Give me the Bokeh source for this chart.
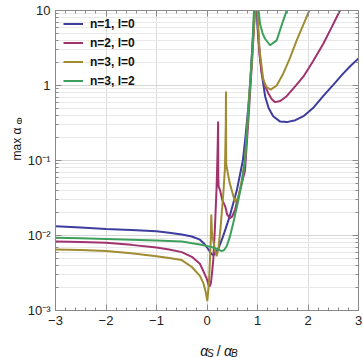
import numpy as np
from bokeh.plotting import figure
from bokeh.models import LinearAxis, LogAxis, FixedTicker, Range1d
from bokeh.layouts import row, column
from bokeh.core.properties import value
from bokeh.embed import file_html
from bokeh.resources import INLINE

# ---- data ----
x_ticks = [-3, -2, -1, 0, 1, 2, 3]
x_tick_labels = ["−3", "−2", "−1", "0", "1", "2", "3"]
y_ticks = [0.001, 0.01, 0.1, 1, 10]
y_tick_labels = ["10⁻³", "10⁻²", "10⁻¹", "1", "10"]

series_labels = ["n=1, l=0", "n=2, l=0", "n=3, l=0", "n=3, l=2"]
series_colors = ["#3d3da0", "#a0336e", "#a08c32", "#3ca05c"]

blue_x = [-3, -2.5, -2, -1.5, -1, -0.75, -0.5, -0.3, -0.14, -0.05, 0.03, 0.07, 0.10, 0.13, 0.16, 0.23, 0.32,
          0.45, 0.59, 0.65, 0.71, 0.76, 0.82, 0.855, 0.885, 0.915, 0.94, 0.96,
          0.975, 0.99, 1.0, 1.02, 1.05, 1.09, 1.15, 1.22, 1.31, 1.45, 1.58, 1.75, 1.91, 2.1, 2.3, 2.5, 2.7,
          2.85, 3.0]
blue_y = [0.0133, 0.0128, 0.0122, 0.0118, 0.0114, 0.0109, 0.0103, 0.0097, 0.0088, 0.0077, 0.0065, 0.0059,
          0.0056, 0.0055, 0.0058, 0.0068, 0.0098,
          0.018, 0.04, 0.063, 0.1, 0.2, 0.53, 1.1, 2.4, 5.0, 10, 30,
          30, 9, 6.0, 4.0, 2.4, 1.35, 0.72, 0.5, 0.39, 0.33, 0.325, 0.345, 0.39, 0.50, 0.72, 1.02, 1.45,
          1.85, 2.3]

mag_x = [-3, -2.5, -2, -1.5, -1, -0.75, -0.5, -0.3, -0.14, -0.05, 0.0, 0.03, 0.06, 0.08, 0.10, 0.125, 0.158,
         0.19, 0.205, 0.215, 0.22, 0.224, 0.23, 0.26, 0.30, 0.36, 0.40, 0.455, 0.50, 0.554, 0.653, 0.752,
         0.82, 0.89, 0.95, 0.97,
         0.98, 1.0, 1.04, 1.083, 1.15, 1.214, 1.28, 1.347, 1.45, 1.578, 1.75, 1.907, 2.1, 2.303, 2.47, 2.634,
         2.7]
mag_y = [0.0083, 0.0082, 0.0080, 0.0075, 0.0069, 0.0065, 0.0060, 0.0052, 0.0042, 0.0031, 0.0026, 0.0022,
         0.0021, 0.0024, 0.0032, 0.0048, 0.013,
         0.044, 0.1, 0.2, 0.33, 0.06, 0.045, 0.040, 0.030, 0.0245, 0.019, 0.017, 0.018, 0.022, 0.04, 0.073,
         0.35, 2.0, 10, 30,
         30, 8, 2.6, 1.45, 0.98, 0.79, 0.66, 0.60, 0.62, 0.72, 0.98, 1.31, 2.1, 3.6, 6.0, 10,
         12]

oli_x = [-3, -2.5, -2, -1.5, -1, -0.75, -0.5, -0.3, -0.14, -0.07, -0.02, 0.006, 0.03, 0.045, 0.073, 0.085,
         0.095, 0.105, 0.158, 0.19, 0.224, 0.27, 0.323, 0.356, 0.372, 0.376, 0.380, 0.40, 0.45, 0.49, 0.554,
         0.62, 0.687, 0.752, 0.82, 0.89, 0.95, 0.97,
         0.985, 1.0, 1.04, 1.115, 1.18, 1.261, 1.38, 1.511, 1.64, 1.776, 1.9, 2.026, 2.1]
oli_y = [0.0065, 0.0064, 0.0062, 0.0058, 0.0053, 0.0050, 0.0047, 0.0038, 0.0029, 0.0023, 0.0017, 0.00134,
         0.0020, 0.0029, 0.008, 0.019,
         0.012, 0.0098, 0.0065, 0.0053, 0.0065, 0.013, 0.036, 0.081, 0.3, 0.83, 0.09, 0.075, 0.05, 0.04,
         0.028,
         0.032, 0.054, 0.1, 0.5, 2.3, 10, 30,
         30, 9, 3.0, 1.19, 0.95, 0.88, 1.0, 1.45, 2.3, 4.0, 6.3, 10, 13]

grn_x = [-3, -2.5, -2, -1.5, -1, -0.5, -0.14, 0.1, 0.2, 0.29, 0.34, 0.39, 0.45, 0.52, 0.62, 0.69, 0.752,
         0.80, 0.84, 0.89, 0.93, 0.96,
         0.985, 1.0, 1.05, 1.10, 1.149, 1.248, 1.38, 1.511, 1.578, 1.62]
grn_y = [0.0093, 0.0092, 0.0090, 0.0088, 0.0086, 0.0083, 0.0076, 0.0070, 0.0066, 0.0062, 0.0064, 0.0072,
         0.0095, 0.0147, 0.0295, 0.05, 0.1,
         0.3, 0.7, 2.5, 10, 30,
         30, 14, 6.6, 5.0, 4.2, 3.44, 4.0, 7.4, 10, 13]

series = [(blue_x, blue_y), (mag_x, mag_y), (oli_x, oli_y), (grn_x, grn_y)]

# ---- layout sizes ----
FONT = "Liberation Sans"
W, H = 363, 357
LW = 22          # left title strip
BH = 25          # bottom title strip
PW, PH = W - LW, H - BH

# ---- main figure ----
p = figure(width=PW, height=PH, x_range=(-3, 3), y_range=(0.001, 10), y_axis_type="log",
           output_backend="svg", toolbar_location=None,
           min_border_left=55 - LW, min_border_right=5, min_border_top=10, min_border_bottom=PH - 310)
p.outline_line_color = "#8a8a8a"
p.background_fill_color = "white"

x_minor = [round(v, 1) for v in np.arange(-3, 3.001, 0.2)]
y_minor = [m * 10.0 ** k for k in range(-3, 1) for m in range(2, 10)]

xt = FixedTicker(ticks=x_ticks, minor_ticks=x_minor)
yt = FixedTicker(ticks=y_ticks, minor_ticks=y_minor)
p.xaxis.ticker = xt
p.yaxis.ticker = yt
p.xgrid.ticker = xt
p.ygrid.ticker = yt
p.xaxis.major_label_overrides = dict(zip(x_ticks, x_tick_labels))
p.yaxis.major_label_overrides = dict(zip(y_ticks, y_tick_labels))

p.xgrid.grid_line_color = "#dcdcdc"
p.xgrid.minor_grid_line_color = None
p.ygrid.grid_line_color = "#d6d6d6"
p.ygrid.minor_grid_line_color = "#e9e9e9"

def style_axis(ax):
    ax.axis_line_color = "#8a8a8a"
    ax.major_tick_line_color = "#8a8a8a"
    ax.minor_tick_line_color = "#8a8a8a"
    ax.major_tick_in = 6
    ax.major_tick_out = 0
    ax.minor_tick_in = 3
    ax.minor_tick_out = 0
    ax.major_label_text_font = FONT
    ax.major_label_text_font_size = "13px"
    ax.major_label_text_color = "#222222"
    ax.major_label_standoff = 5

for ax in p.xaxis + p.yaxis:
    style_axis(ax)

top_ax = LinearAxis(ticker=FixedTicker(ticks=x_ticks, minor_ticks=x_minor))
right_ax = LogAxis(ticker=FixedTicker(ticks=y_ticks, minor_ticks=y_minor))
for ax, ticks in ((top_ax, x_ticks), (right_ax, y_ticks)):
    style_axis(ax)
    ax.major_label_overrides = {t: "" for t in ticks}
    ax.major_label_standoff = 0
p.add_layout(top_ax, "above")
p.add_layout(right_ax, "right")

for (xs, ys), lab, col in zip(series, series_labels, series_colors):
    p.line(xs, ys, line_color=col, line_width=2, legend_label=lab)

lg = p.legend[0]
lg.location = (8, 220)
lg.margin = 0
lg.padding = 0
lg.spacing = 0
lg.glyph_width = 20
lg.glyph_height = 19
lg.label_height = 19
lg.label_standoff = 7
lg.border_line_color = None
lg.background_fill_alpha = 0
lg.label_text_font = FONT
lg.label_text_font_size = "12px"
lg.label_text_font_style = "bold"
lg.label_text_color = "#111111"

# ---- title strips (pixel-like ranges, y increasing downwards) ----
def strip(w, h, x0, y0):
    f = figure(width=w, height=h, x_range=Range1d(x0, x0 + w), y_range=Range1d(y0 + h, y0),
               output_backend="svg", toolbar_location=None,
               x_axis_location=None, y_axis_location=None,
               min_border_left=0, min_border_right=0, min_border_top=0, min_border_bottom=0)
    f.grid.visible = False
    f.outline_line_color = None
    f.background_fill_color = "white"
    f.border_fill_color = "white"
    return f

def txt(f, x, y, s, size, style="normal", angle=0.0):
    f.text(x=[x], y=[y], text=[s], text_font=value(FONT), text_font_size=size,
           text_font_style=style, text_align="left", text_baseline="alphabetic",
           angle=angle, text_color="#111111")

bottom = strip(PW, BH, LW, PH)
txt(bottom, 185, 350, "α", "14px", "italic")
txt(bottom, 192.5, 353, "S", "10px", "italic")
txt(bottom, 203.5, 350, "/", "14px")
txt(bottom, 211.5, 350, "α", "14px", "italic")
txt(bottom, 219.5, 353, "B", "10px", "italic")

left = strip(LW, H, 0, 0)
txt(left, 16, 160, "max  α", "12px", "normal", np.pi / 2)
txt(left, 19, 124, "Φ", "9px", "normal", np.pi / 2)

layout = row(left, column(p, bottom, spacing=0), spacing=0)
open("out.html", "w").write(file_html(layout, INLINE))
